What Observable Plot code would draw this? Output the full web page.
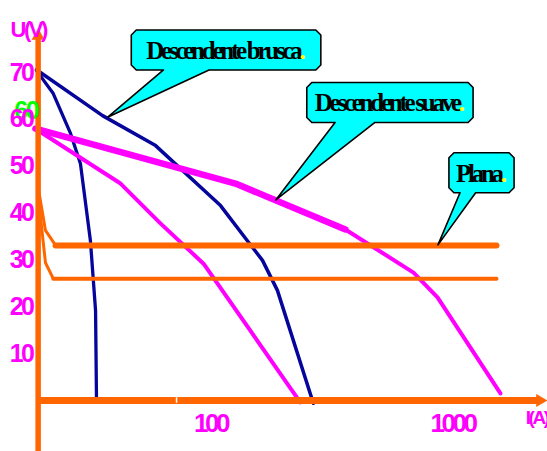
<!DOCTYPE html>
<html><head><meta charset="utf-8">
<script src="https://cdn.jsdelivr.net/npm/d3@7"></script>
<script src="https://cdn.jsdelivr.net/npm/@observablehq/plot@0.6"></script>
<style>html,body{margin:0;padding:0;background:#fff;}</style>
</head><body><div id="chart"></div>
<script>
// ---- data (I in A, log scale; U in V) ----
const xTicks = [100, 1000];
const yTicks = [10, 20, 30, 40, 50, 60, 70];
const extraTick = [60];           // green duplicate "60"
const whiteTickI = [72.4];

const bruscaSteepI = [19.1, 22.4, 26.4, 29.0, 31.9, 33.5, 33.8];
const bruscaSteepU = [70.4, 65.5, 57.0, 50.6, 34.1, 19.2, 0];
const bruscaI = [19.1, 35.8, 59.3, 110, 142, 164, 189, 266];
const bruscaU = [70.6, 60.8, 54.4, 41.6, 34.1, 29.9, 23.5, -0.6];
const suaveI = [18.9, 126.8, 361];
const suaveU = [58.0, 46.3, 36.5];
const suaveTailI = [361, 690, 867, 1578];
const suaveTailU = [36.5, 27.3, 22.0, 1.5];
const suave2I = [18.9, 42.5, 62.1, 93.6, 235];
const suave2U = [58.0, 46.3, 37.8, 29.2, -0.4];
const planaHighI = [19.5, 20.8, 22.9, 1520];
const planaHighU = [44.8, 36.3, 33.1, 33.1];
const planaLowI = [19.5, 20.8, 22.4, 1520];
const planaLowU = [42.7, 29.4, 26.0, 26.0];

const calloutLabels = ["Descendente brusca", "Descendente suave", "Plana"];
const calloutTipI = [37.9, 187, 875];
const calloutTipU = [60.4, 42.7, 33.1];
const calloutBoxI = [116.5, 554, 1324];
const calloutBoxU = [74.7, 63.5, 48.5];

// axis extents (data units)
const axisOriginI = 19.4;
const axisBottomU = -11;
const arrowU = 77.8;
const arrowI = 2299;

// ---- styles ----
const ORANGE = "#ff6600", MAGENTA = "#ff00ff", BLUE = "#05059c", CYAN = "#00ffff";
const calloutPad = [15, 8, 7];
const calloutFontSize = 25;
const calloutSpacing = -3.25;
const ns = "http://www.w3.org/2000/svg";

function callouts(index, scales, values, dimensions, context) {
  const doc = (context && context.document) || document;
  const g = doc.createElementNS(ns, "g");
  g.setAttribute("aria-label", "callouts");
  const ctx = doc.createElement("canvas").getContext("2d");
  ctx.font = `bold ${calloutFontSize}px 'Liberation Serif'`;
  calloutLabels.forEach((label, i) => {
    const cx = scales.x(calloutBoxI[i]), cy = scales.y(calloutBoxU[i]);
    const tx = scales.x(calloutTipI[i]), ty = scales.y(calloutTipU[i]);
    const full = label + ".";
    const len = ctx.measureText(full).width + (full.length - 1) * calloutSpacing;
    const w = len + 2 * calloutPad[i], h = 40, c = 5;
    const L = cx - w / 2, R = cx + w / 2, T = cy - h / 2, B = cy + h / 2;
    const pL = L + 0.17 * w, pR = L + 0.41 * w;
    const path = doc.createElementNS(ns, "path");
    path.setAttribute("d", `M${L + c},${T}H${R - c}L${R},${T + c}V${B - c}L${R - c},${B}H${pR}L${tx},${ty}L${pL},${B}H${L + c}L${L},${B - c}V${T + c}Z`);
    path.setAttribute("fill", CYAN);
    path.setAttribute("stroke", "black");
    path.setAttribute("stroke-width", 1.6);
    path.setAttribute("stroke-linejoin", "round");
    g.appendChild(path);
    const text = doc.createElementNS(ns, "text");
    text.setAttribute("x", cx - len / 2);
    text.setAttribute("y", cy + 9);
    text.setAttribute("text-anchor", "start");
    text.setAttribute("font-family", "'Liberation Serif', 'Times New Roman', serif");
    text.setAttribute("font-weight", "bold");
    text.setAttribute("font-size", calloutFontSize);
    text.setAttribute("letter-spacing", calloutSpacing);
    text.setAttribute("fill", "black");
    text.appendChild(doc.createTextNode(label));
    const dot = doc.createElementNS(ns, "tspan");
    dot.setAttribute("fill", "#ffff00");
    dot.textContent = ".";
    text.appendChild(dot);
    g.appendChild(text);
  });
  return g;
}

const planaLine = (I, U, wFlat) => [
  Plot.line(I.slice(0, 3), {x: I.slice(0, 3), y: U.slice(0, 3), stroke: ORANGE, strokeWidth: 3, strokeLinejoin: "round"}),
  Plot.line(I.slice(2), {x: I.slice(2), y: U.slice(2), stroke: ORANGE, strokeWidth: wFlat})
];

const chart = Plot.plot({
  width: 547, height: 451,
  marginLeft: 38, marginRight: 0, marginTop: 0, marginBottom: 51,
  x: {type: "log", domain: [100, 1000], range: [210, 452], axis: null},
  y: {domain: [0, 70], range: [400, 72], axis: null},
  style: {background: "white", fontFamily: "'Liberation Sans', Arial, sans-serif", letterSpacing: "-2.5px"},
  marks: [
    // curves
    Plot.line(bruscaSteepI, {x: bruscaSteepI, y: bruscaSteepU, stroke: BLUE, strokeWidth: 3.3, strokeLinejoin: "round"}),
    Plot.line(bruscaI, {x: bruscaI, y: bruscaU, stroke: BLUE, strokeWidth: 3.5, strokeLinejoin: "round"}),
    Plot.line(suave2I, {x: suave2I, y: suave2U, stroke: MAGENTA, strokeWidth: 4, strokeLinejoin: "round"}),
    Plot.line(suaveTailI, {x: suaveTailI, y: suaveTailU, stroke: MAGENTA, strokeWidth: 4, strokeLinejoin: "round"}),
    Plot.line(suaveI, {x: suaveI, y: suaveU, stroke: MAGENTA, strokeWidth: 6.5, strokeLinejoin: "round"}),
    ...planaLine(planaHighI, planaHighU, 6),
    ...planaLine(planaLowI, planaLowU, 4),
    // axes
    Plot.ruleX([axisOriginI], {y1: axisBottomU, y2: arrowU, stroke: ORANGE, strokeWidth: 5.5}),
    Plot.ruleY([0], {x1: axisOriginI, x2: arrowI, stroke: ORANGE, strokeWidth: 7}),
    Plot.dot([0], {x: [axisOriginI], y: [arrowU], symbol: "triangle", r: 4.9, fill: ORANGE, stroke: null}),
    Plot.dot([0], {x: [arrowI], y: [0], symbol: "triangle", r: 4.9, fill: ORANGE, stroke: null, rotate: 90}),
    Plot.ruleX(whiteTickI, {y1: -0.6, y2: 0.6, stroke: "white", strokeWidth: 1.5}),
    Plot.text(extraTick, {x: () => axisOriginI, y: d => d, text: d => String(d), dx: -1, dy: -8, textAnchor: "end", fill: "#00ff00", fontSize: 25, fontWeight: "bold"}),
    Plot.axisY({ticks: yTicks, tickSize: 0, tickPadding: 6, tickFormat: d => String(d), fill: MAGENTA, fontSize: 25, fontWeight: "bold"}),
    Plot.axisX({ticks: xTicks, tickSize: 0, tickPadding: 13, tickFormat: d => String(d), fill: MAGENTA, fontSize: 26, fontWeight: "bold"}),
    Plot.text(["U(V)"], {text: d => d, frameAnchor: "top-left", dx: -28, dy: 21, textAnchor: "start", fill: MAGENTA, fontSize: 22, fontWeight: "bold", ariaLabel: "ulabel"}),
    Plot.text(["I(A)"], {text: d => d, frameAnchor: "bottom-right", dx: 0, dy: 23, textAnchor: "end", fill: MAGENTA, fontSize: 19, fontWeight: "bold", ariaLabel: "ilabel"}),
    // callouts
    callouts
  ]
});

const s = d3.select(chart);
s.select('g[aria-label="x-axis tick label"]').style("letter-spacing", "-3.5px").attr("fill", MAGENTA).attr("font-weight", "bold");
s.select('g[aria-label="y-axis tick label"]').attr("fill", MAGENTA).attr("font-weight", "bold");
s.select('g[aria-label="ulabel"]').style("letter-spacing", "-3px");
s.select('g[aria-label="ilabel"]').style("letter-spacing", "-1.5px");
document.getElementById("chart").appendChild(chart);
</script>
</body></html>
